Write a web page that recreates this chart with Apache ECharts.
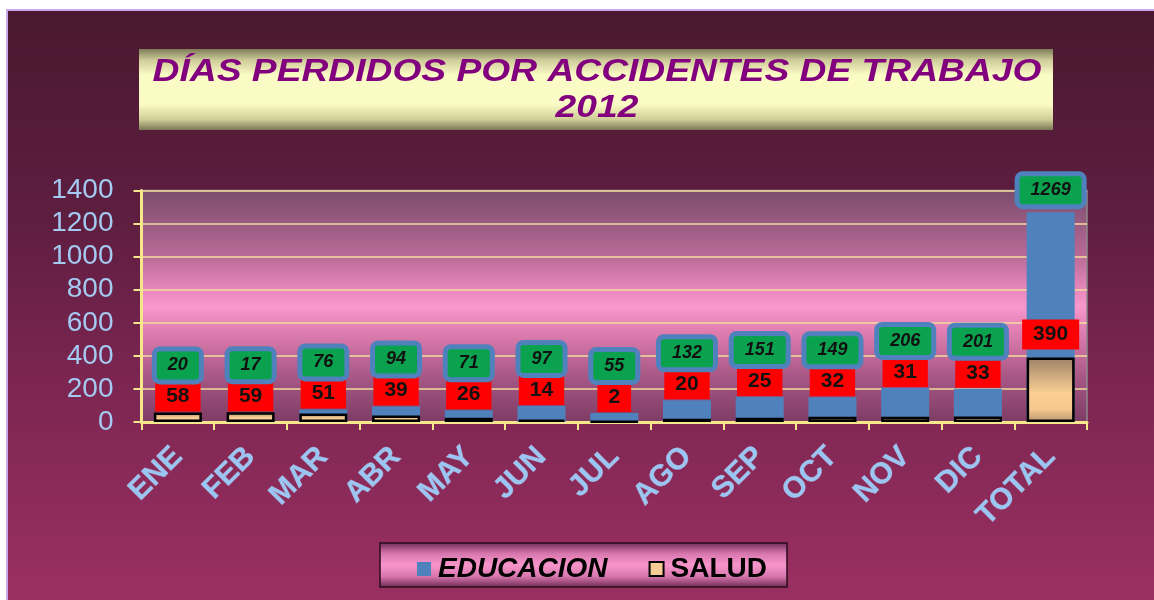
<!DOCTYPE html>
<html><head><meta charset="utf-8">
<script src="https://cdn.jsdelivr.net/npm/echarts@6/dist/echarts.min.js"></script>
<style>
html,body{margin:0;padding:0;background:#fff;overflow:hidden;}
#bg{position:absolute;left:6px;top:9px;width:1148px;height:591px;box-sizing:border-box;border-left:2px solid #c8a8e6;border-top:2px solid #c8a8e6;background:linear-gradient(to bottom,#4a1830 0%,#5e1e40 35%,#7e2652 65%,#9a3062 100%);}
#c{position:absolute;left:0;top:0;width:1154px;height:600px;}
</style>
</head><body><div id="bg"></div><div id="c"></div>
<script>
const categories = ['ENE','FEB','MAR','ABR','MAY','JUN','JUL','AGO','SEP','OCT','NOV','DIC','TOTAL'];
const educacion = [20,17,76,94,71,97,55,132,151,149,206,201,1269];
const salud = [58,59,51,39,26,14,2,20,25,32,31,33,390];
const yTicks = [0,200,400,600,800,1000,1200,1400];
const titleLines = ['DÍAS PERDIDOS POR ACCIDENTES DE TRABAJO','2012'];
const seriesNames = ['EDUCACION','SALUD'];

const FONT = '"Liberation Sans", Arial, sans-serif';
const chart = echarts.init(document.getElementById('c'), null, {renderer:'canvas'});

const labelData = categories.map((c,i)=>[i, educacion[i], salud[i]]);

function renderLabels(params, api){
  const i = api.value(0), e = api.value(1), s = api.value(2);
  const x = api.coord([i, 0])[0];
  const eTop = api.coord([i, e])[1];
  const sTop = api.coord([i, s])[1];
  const redH = 30;
  let redBottom;
  if (sTop - 8 - redH - 40 >= eTop) redBottom = sTop - 8;
  else redBottom = Math.min(eTop, sTop) - 1;
  const redTop = redBottom - redH;
  const greenBottom = Math.min(redTop, eTop - 6) - 2;
  return {type:'group', children:[
    {type:'text', z2:10, style:{text:String(s), x:x, y:redBottom, align:'center', verticalAlign:'bottom',
      fontFamily:FONT, fontWeight:'bold', fontSize:21, lineHeight:20, fill:'#111',
      backgroundColor:'#ff0000', padding:[5,11]}},
    {type:'text', z2:11, style:{text:String(e), x:x, y:greenBottom, align:'center', verticalAlign:'bottom',
      fontFamily:FONT, fontWeight:'bold', fontStyle:'italic', fontSize:18, lineHeight:18, fill:'#111',
      backgroundColor:'#0ba24f', borderColor:'#4f81bd', borderWidth:5, borderRadius:3, padding:[5,11]}}
  ]};
}

const saludFill = new echarts.graphic.LinearGradient(0,0,0,1,[
  {offset:0,color:'#9c8268'},{offset:0.55,color:'#fbcf94'},{offset:0.8,color:'#f6c98e'},{offset:1,color:'#b99672'}
]);

chart.setOption({
  animation:false,
  backgroundColor:'transparent',
  graphic:[
    {type:'rect', z:0, shape:{x:139,y:49,width:914,height:81},
      style:{fill:new echarts.graphic.LinearGradient(0,0,0,1,[
        {offset:0,color:'#7e7c58'},{offset:0.14,color:'#cfcd9a'},{offset:0.32,color:'#fbfbc6'},
        {offset:0.68,color:'#fbfbc6'},{offset:0.87,color:'#cfcd98'},{offset:1,color:'#7a7856'}])}},
    {type:'text', z:1, x:597, y:90, scaleX:1.2, style:{text:titleLines.join('\n'), x:0, y:0, align:'center', verticalAlign:'middle',
      fontFamily:FONT, fontWeight:'bold', fontStyle:'italic', fontSize:31, lineHeight:36, fill:'#82007e'}},
    {type:'rect', z:0, shape:{x:380,y:543,width:407,height:44},
      style:{fill:new echarts.graphic.LinearGradient(0,0,0,1,[
        {offset:0,color:'#6e2a56'},{offset:0.25,color:'#d877ae'},{offset:0.5,color:'#f896cc'},
        {offset:0.75,color:'#d877ae'},{offset:1,color:'#6a2650'}]), stroke:'#2a0c1c', lineWidth:1.5}}
  ],
  legend:{
    left:412, top:550, itemWidth:14, itemHeight:14, itemGap:41, icon:'rect',
    textStyle:{fontFamily:FONT, fontWeight:'bold', fontSize:28, color:'#000', padding:[0,0,0,2]},
    data:[{name:seriesNames[0], textStyle:{fontStyle:'italic'}},
          {name:seriesNames[1], itemStyle:{color:'#f6cc94', borderColor:'#000', borderWidth:2}}]
  },
  grid:{left:141.5, right:67, top:190.5, bottom:178, show:true, borderColor:'#8e8a8e', borderWidth:1.5,
    backgroundColor:new echarts.graphic.LinearGradient(0,0,0,1,[
      {offset:0,color:'#7a4c6c'},{offset:0.28,color:'#b86a96'},{offset:0.45,color:'#ee8cc2'},
      {offset:0.5,color:'#f898cc'},{offset:0.6,color:'#e27fb3'},{offset:0.8,color:'#a85886'},{offset:1,color:'#7c3c64'}])},
  xAxis:{
    type:'category', data:categories,
    axisLine:{lineStyle:{color:'#f6e68c', width:3}},
    axisTick:{show:true, length:8, lineStyle:{color:'#f6e68c', width:2}},
    axisLabel:{rotate:45, margin:30, fontFamily:FONT, fontWeight:'bold', fontSize:30, color:'#9cc6f2',
      textBorderColor:'rgba(210,225,255,0.5)', textBorderWidth:0.5}
  },
  yAxis:{
    type:'value', min:0, max:1400, interval:200,
    axisLine:{show:true, lineStyle:{color:'#f6e68c', width:3}},
    axisTick:{show:true, length:8, lineStyle:{color:'#f6e68c', width:2}},
    axisLabel:{margin:28, fontFamily:FONT, fontSize:28, color:'#a4caf2',
      formatter:v=>yTicks.includes(v)?String(v):''},
    splitLine:{lineStyle:{color:'#f2dc9e', width:1.5}}
  },
  series:[
    {name:seriesNames[0], type:'bar', data:educacion, barCategoryGap:'34%', barGap:'-100%', z:2,
      itemStyle:{color:'#4f81bd'}},
    {name:seriesNames[1], type:'bar', data:salud, barCategoryGap:'34%', barGap:'-100%', z:3,
      itemStyle:{color:saludFill, borderColor:'#000', borderWidth:2.5}},
    {type:'custom', data:labelData, renderItem:renderLabels, z:10, clip:false, silent:true,
      encode:{x:0, y:1}}
  ]
});
</script>
</body></html>
